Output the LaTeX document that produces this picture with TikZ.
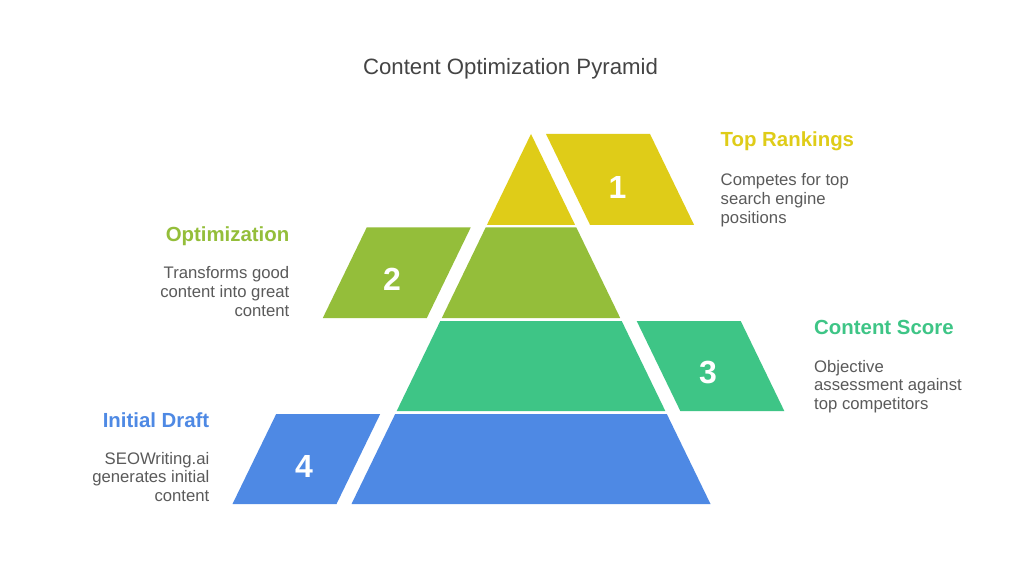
\documentclass[tikz,border=0pt]{standalone}
\usepackage{fontspec}
\setmainfont{Liberation Sans}
\definecolor{cyel}{HTML}{DFCC18}
\definecolor{cgrn}{HTML}{94BE3A}
\definecolor{cteal}{HTML}{3EC586}
\definecolor{cblue}{HTML}{4E89E4}
\definecolor{ctext}{HTML}{5A5A5A}
\definecolor{ctitle}{HTML}{444444}
\tikzset{
  numlbl/.style={text=white,font=\fontsize{32}{32}\selectfont\bfseries,inner sep=0pt},
  headlbl/.style={font=\fontsize{20.4}{22}\selectfont\bfseries,inner sep=0pt},
  desclbl/.style={text=ctext,font=\fontsize{16.7}{18.8}\selectfont,inner sep=0pt},
}
\begin{document}
\begin{tikzpicture}[x=1pt,y=-1pt]
\useasboundingbox[fill=white] (0,0) rectangle (1024,585);
% title
\node[text=ctitle,font=\fontsize{22.2}{24}\selectfont,anchor=base,inner sep=0pt] (title) at (510.5,75) {Content Optimization Pyramid};
% pyramid layers
\fill[cyel] (531,134) -- (575.1,225) -- (486.9,225) -- cycle;
\fill[cgrn] (485.65,227.5) -- (576.35,227.5) -- (620.2,318) -- (441.8,318) -- cycle;
\fill[cteal] (440.3,321) -- (621.7,321) -- (665.3,411) -- (396.7,411) -- cycle;
\fill[cblue] (395.2,414) -- (666.8,414) -- (710.5,504) -- (351.5,504) -- cycle;
% number tabs
\fill[cyel] (546,134) -- (650,134) -- (694.1,225) -- (590.1,225) -- cycle;
\fill[cgrn] (366.7,227.5) -- (470.7,227.5) -- (426.8,318) -- (322.8,318) -- cycle;
\fill[cteal] (636.7,321) -- (740.7,321) -- (784.3,411) -- (680.3,411) -- cycle;
\fill[cblue] (276.2,414) -- (380.2,414) -- (336.5,504) -- (232.5,504) -- cycle;
% numbers
\node[numlbl] (n1) at (617.5,187) {1};
\node[numlbl] (n2) at (392,279) {2};
\node[numlbl] (n3) at (708,373) {3};
\node[numlbl] (n4) at (304,466) {4};
% headings
\node[headlbl,text=cyel,anchor=base west] (h1) at (720.5,147) {Top Rankings};
\node[headlbl,text=cgrn,anchor=base east] (h2) at (289.5,241) {Optimization};
\node[headlbl,text=cteal,anchor=base west] (h3) at (814,334) {Content Score};
\node[headlbl,text=cblue,anchor=base east] (h4) at (209.5,427) {Initial Draft};
% descriptions (base anchor = last line baseline)
\node[desclbl,align=left,anchor=base west] (d1) at (720.5,223.1) {Competes for top\\search engine\\positions};
\node[desclbl,align=right,anchor=base east] (d2) at (289.5,316.1) {Transforms good\\content into great\\content};
\node[desclbl,align=left,anchor=base west] (d3) at (814,409.6) {Objective\\assessment against\\top competitors};
\node[desclbl,align=right,anchor=base east] (d4) at (209.5,501.6) {SEOWriting.ai\\generates initial\\content};
\end{tikzpicture}
\end{document}
